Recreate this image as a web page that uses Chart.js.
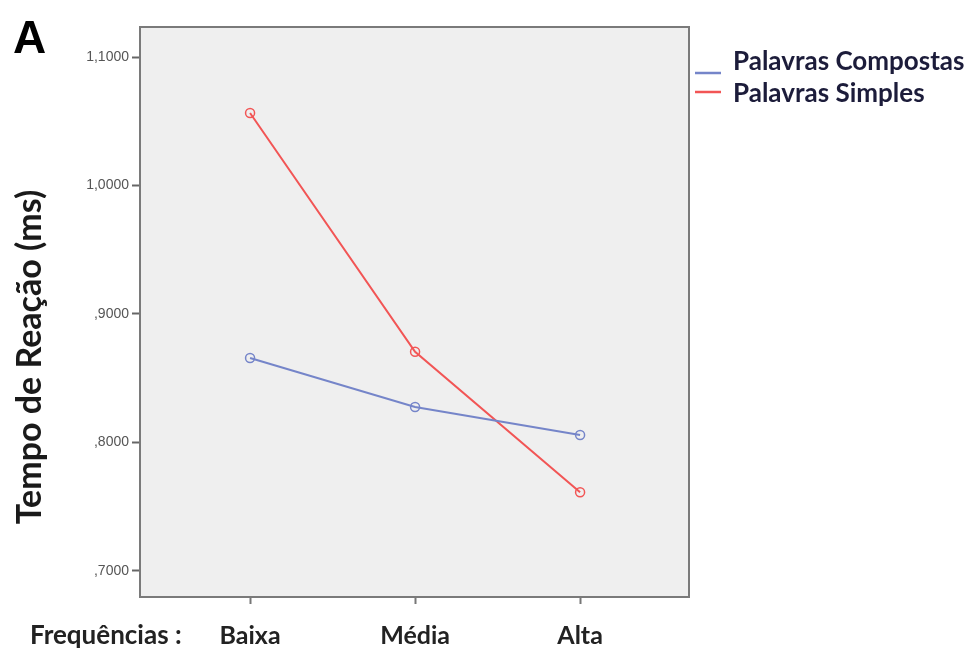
<!DOCTYPE html>
<html>
<head>
<meta charset="utf-8">
<script src="https://cdn.jsdelivr.net/npm/chart.js@4.4.1/dist/chart.umd.min.js"></script>
<style>
  html, body { margin: 0; padding: 0; background: #fff; }
  #wrap { width: 972px; height: 650px; position: relative; }
</style>
</head>
<body>
<div id="wrap"><canvas id="chart"></canvas></div>
<script>
// Tempo de reação por frequência
const categories = ['Baixa', 'Média', 'Alta'];
const compostas = [0.8657, 0.8275, 0.8057];
const simples = [1.0566, 0.8706, 0.7611];
const yTicks = [0.7, 0.8, 0.9, 1.0, 1.1];

const toPoints = values => values.map((v, i) => ({ x: i, y: v }));

const frame = {
    id: 'frame',
    beforeDatasetsDraw(chart) {
        const { ctx, chartArea: a } = chart;
        ctx.save();
        ctx.fillStyle = '#efefef';
        ctx.fillRect(a.left, a.top, a.right - a.left, a.bottom - a.top);
        ctx.strokeStyle = '#7a7a7a';
        ctx.lineWidth = 2;
        ctx.strokeRect(a.left, a.top, a.right - a.left, a.bottom - a.top);
        ctx.restore();
    },
    afterDraw(chart) {
        const ctx = chart.ctx;
        ctx.save();
        ctx.fillStyle = '#000';
        ctx.font = 'bold 46px "Liberation Sans", Arial, sans-serif';
        ctx.textBaseline = 'alphabetic';
        ctx.fillText('A', 13, 53);

        ctx.fillStyle = '#222';
        ctx.font = 'bold 26px Lato, "Open Sans", sans-serif';
        ctx.textBaseline = 'middle';
        ctx.fillText('Frequências :', 30, 636);

        ctx.translate(30, 357);
        ctx.rotate(-Math.PI / 2);
        ctx.textAlign = 'center';
        ctx.font = 'bold 34px Lato, "Open Sans", sans-serif';
        ctx.fillStyle = '#1a1a1a';
        ctx.fillText('Tempo de Reação (ms)', 0, 0);
        ctx.restore();

        // legenda
        const items = [
            { label: 'Palavras Compostas', color: '#7585c9', y: 73, ty: 62 },
            { label: 'Palavras Simples', color: '#f25555', y: 92, ty: 94 }
        ];
        ctx.save();
        ctx.font = 'bold 26px Lato, "Open Sans", sans-serif';
        ctx.textBaseline = 'middle';
        items.forEach(it => {
            ctx.strokeStyle = it.color;
            ctx.lineWidth = 2.5;
            ctx.beginPath();
            ctx.moveTo(695, it.y);
            ctx.lineTo(721, it.y);
            ctx.stroke();
            ctx.fillStyle = '#1c1c3a';
            ctx.fillText(it.label, 733, it.ty);
        });
        ctx.restore();
    }
};

new Chart(document.getElementById('chart'), {
    type: 'line',
    data: {
        datasets: [{
            label: 'Palavras Compostas',
            data: toPoints(compostas),
            borderColor: '#7585c9',
            backgroundColor: 'transparent',
            borderWidth: 2,
            pointRadius: 4.5,
            pointBorderWidth: 1.5,
            pointBackgroundColor: 'transparent',
            pointBorderColor: '#7585c9',
            tension: 0
        }, {
            label: 'Palavras Simples',
            data: toPoints(simples),
            borderColor: '#f25555',
            backgroundColor: 'transparent',
            borderWidth: 2,
            pointRadius: 4.5,
            pointBorderWidth: 1.5,
            pointBackgroundColor: 'transparent',
            pointBorderColor: '#f25555',
            tension: 0
        }]
    },
    options: {
        responsive: true,
        maintainAspectRatio: false,
        animation: false,
        layout: { padding: { top: 27, right: 283, left: 0, bottom: 0 } },
        plugins: {
            legend: { display: false },
            tooltip: { enabled: false }
        },
        scales: {
            x: {
                type: 'linear',
                min: -0.667,
                max: 2.66,
                afterBuildTicks: scale => {
                    scale.ticks = categories.map((c, i) => ({ value: i }));
                },
                afterFit: scale => { scale.height = 53; },
                grid: { drawOnChartArea: false, drawTicks: true, tickLength: 7, tickColor: '#777', tickWidth: 2 },
                border: { display: false },
                ticks: {
                    padding: 17,
                    color: '#222',
                    font: { family: 'Lato, "Open Sans", sans-serif', size: 25, weight: 'bold' },
                    callback: v => categories[v]
                }
            },
            y: {
                min: 0.6795,
                max: 1.1236,
                afterBuildTicks: scale => {
                    scale.ticks = yTicks.map(v => ({ value: v }));
                },
                afterFit: scale => { scale.width = 140; },
                grid: { drawOnChartArea: false, drawTicks: true, tickLength: 8, tickColor: '#666', tickWidth: 2 },
                border: { display: false },
                ticks: {
                    padding: 3,
                    color: '#555',
                    font: { family: '"Liberation Sans", Arial, sans-serif', size: 14 },
                    callback: v => v.toFixed(4).replace(/^0/, '').replace('.', ',')
                }
            }
        }
    },
    plugins: [frame]
});
</script>
</body>
</html>
